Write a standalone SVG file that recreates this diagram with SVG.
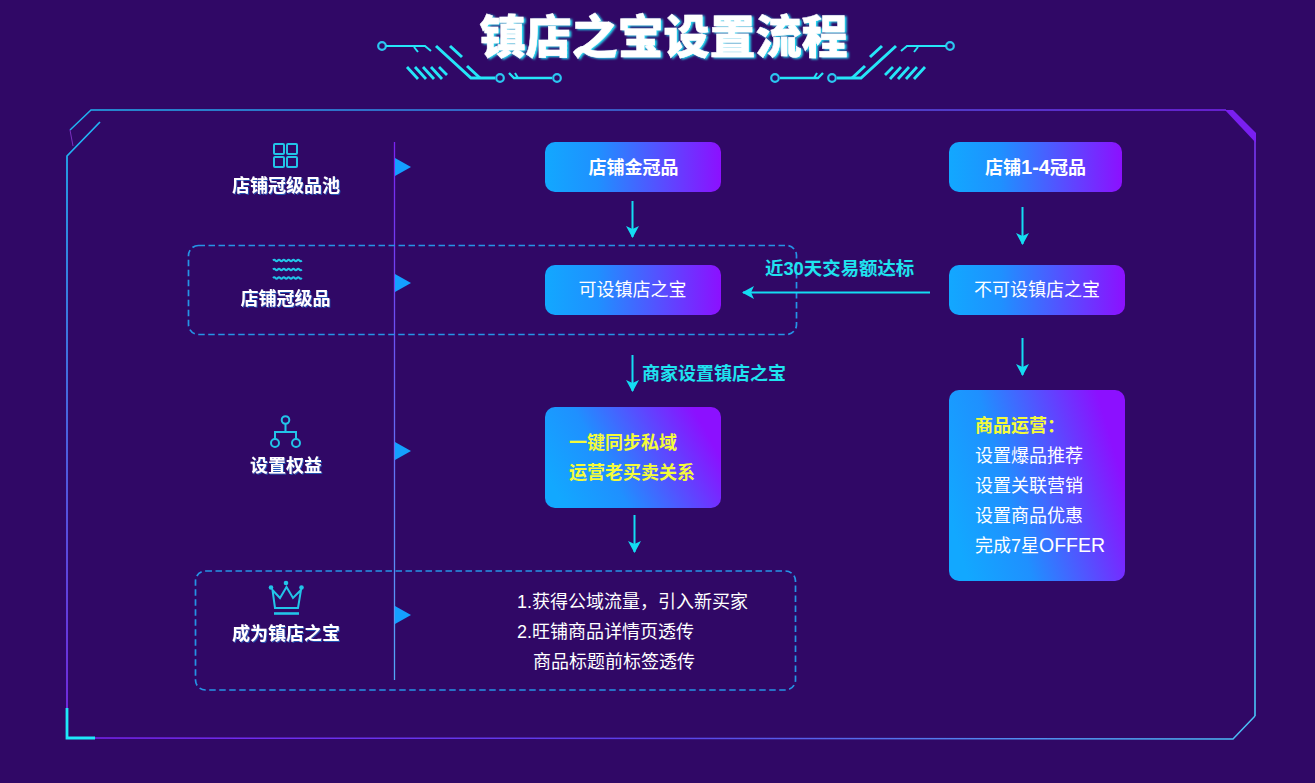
<svg xmlns="http://www.w3.org/2000/svg" width="1315" height="783" viewBox="0 0 1315 783">
<style>
text{font-family:"Liberation Sans","Noto Sans CJK SC",sans-serif}
.t{font-size:18px;fill:#fff;text-anchor:middle;font-weight:700}
.r{font-size:18px;fill:#fff}
.y{font-size:18px;fill:#f4fb3a;font-weight:700}
.c{font-size:18px;fill:#1fe3ef;font-weight:700}
.l{fill:none;stroke:#14dcf2;stroke-width:2}
.d{fill:none;stroke:#2594e6;stroke-width:1.700;stroke-dasharray:6.500 3.500}
.i{fill:none;stroke:#22c4e8;stroke-width:2}
.k{fill:none;stroke:#25e6f8;stroke-width:2}
.w{fill:none;stroke:#25e6f8;stroke-width:3}
.o{fill:none;stroke:#2bc6f0;stroke-width:2.200}
.g{fill:#14a0ff}
</style>
<defs>
<linearGradient id="b" x1="0" y1="0" x2="1" y2="0"><stop offset="0" stop-color="#12a8ff"/><stop offset="0.3" stop-color="#1f90ff"/><stop offset="1" stop-color="#8c10ff"/></linearGradient>
<linearGradient id="b2" x1="0" y1="0.65" x2="0.95" y2="0.35"><stop offset="0" stop-color="#12a8ff"/><stop offset="0.35" stop-color="#1f90ff"/><stop offset="1" stop-color="#8c10ff"/></linearGradient>
<linearGradient id="f" gradientUnits="userSpaceOnUse" x1="67" y1="110" x2="1255" y2="110"><stop offset="0" stop-color="#1fb4f0"/><stop offset="0.5" stop-color="#3f70e0"/><stop offset="1" stop-color="#7a22f0"/></linearGradient>
<linearGradient id="f2" gradientUnits="userSpaceOnUse" x1="67" y1="739" x2="1255" y2="739"><stop offset="0" stop-color="#7a22f0"/><stop offset="0.5" stop-color="#5a40e8"/><stop offset="1" stop-color="#4ac0f5"/></linearGradient>
<linearGradient id="v" gradientUnits="userSpaceOnUse" x1="0" y1="142" x2="0" y2="680"><stop offset="0" stop-color="#7a22f0"/><stop offset="1" stop-color="#52a8f8"/></linearGradient>
<linearGradient id="lf" gradientUnits="userSpaceOnUse" x1="0" y1="155" x2="0" y2="708"><stop offset="0" stop-color="#22b4f5"/><stop offset="1" stop-color="#7a30f0"/></linearGradient>
<linearGradient id="rt" gradientUnits="userSpaceOnUse" x1="0" y1="130" x2="0" y2="716"><stop offset="0" stop-color="#7a30f0"/><stop offset="1" stop-color="#48c8f8"/></linearGradient>
<filter id="s" x="-10%" y="-10%" width="120%" height="120%"><feDropShadow dx="2" dy="1" stdDeviation="0.800" flood-color="#25e6f8"/></filter>
<filter id="ts" x="-5%" y="-10%" width="110%" height="120%"><feDropShadow dx="1" dy="1" stdDeviation="0.500" flood-color="#14a0ff" flood-opacity="0.500"/></filter>
<marker id="a" markerWidth="15" markerHeight="14" refX="11" refY="6.500" orient="auto" markerUnits="userSpaceOnUse"><path d="M0 0L12 6.500L0 13L3 6.500Z" fill="#14dcf2"/></marker>
<g id="deco">
<circle cx="382" cy="46" r="3.800" class="o"/>
<path d="M386 46H425L431 51" class="k"/>
<path d="M414 47L418 52" class="k"/>
<path d="M436 46L471 78H495" class="w"/>
<path d="M450 46L462 57M467 66L480 78" class="w"/>
<path d="M407 67L418 79M415 67L426 79M423 67L434 79M431 67L442 79M439 67L447 75" class="w" style="stroke-width:2.800"/>
<circle cx="500" cy="78" r="3.800" class="o"/>
<path d="M509 73L514 78H552" class="w" style="stroke-width:2.400"/>
<path d="M518 78L515 73" class="k"/>
<circle cx="557" cy="78" r="3.800" class="o"/>
</g>
</defs>
<rect width="1315" height="783" fill="#300866"/>

<g id="title">
<text x="663.500" y="53" text-anchor="middle" font-size="46" font-weight="900" fill="#fff" stroke="#fff" stroke-width="0.500" filter="url(#s)">镇店之宝设置流程</text>
<use href="#deco"/>
<use href="#deco" transform="translate(1332 0) scale(-1 1)"/>
</g>

<g id="frame">
<path d="M70 130L91 110H1226" fill="none" stroke="url(#f)" stroke-width="1.500"/>
<path d="M70 130L73 146" fill="none" stroke="#7a30c0" stroke-width="1"/>
<path d="M100 122L67 156V708" fill="none" stroke="url(#lf)" stroke-width="1.700"/>
<path d="M95 738L1233 739L1255 716" fill="none" stroke="url(#f2)" stroke-width="1.500"/>
<path d="M1255 716V138" fill="none" stroke="url(#rt)" stroke-width="1.600"/>
<path d="M1225 110H1233L1256 133V143Z" fill="#7a1ff0"/>
<path d="M67 708V738H95" fill="none" stroke="#1ee8fa" stroke-width="2.800"/>
</g>

<g id="timeline">
<path d="M394.500 142V680" fill="none" stroke="url(#v)" stroke-width="1.300"/>
<path d="M395 158L411 167L395 176Z" class="g"/>
<path d="M395 274L411 283L395 292Z" class="g"/>
<path d="M395 442L411 451L395 460Z" class="g"/>
<path d="M395 606L411 615L395 624Z" class="g"/>
</g>

<g id="group-pin">
<rect x="188.500" y="245.500" width="608" height="89" rx="10" class="d"/>
</g>
<g id="group-crown">
<rect x="195.500" y="571" width="600" height="119" rx="10" class="d"/>
</g>

<g id="step-pool">
<g class="i"><rect x="274" y="144" width="10" height="10" rx="1"/><rect x="287" y="144" width="10" height="10" rx="1"/><rect x="274" y="157" width="10" height="10" rx="1"/><rect x="287" y="157" width="10" height="10" rx="1"/></g>
<text class="t" x="286" y="192" filter="url(#ts)">店铺冠级品池</text>
</g>
<g id="step-pin">
<path d="M273 260.500q1.200 -1.400 2.400 0t2.400 0t2.400 0t2.400 0t2.400 0t2.400 0t2.400 0t2.400 0t2.400 0t2.400 0t2.400 0t2.400 0M273 269.500q1.200 -1.400 2.400 0t2.400 0t2.400 0t2.400 0t2.400 0t2.400 0t2.400 0t2.400 0t2.400 0t2.400 0t2.400 0t2.400 0M273 278q1.200 -1.400 2.400 0t2.400 0t2.400 0t2.400 0t2.400 0t2.400 0t2.400 0t2.400 0t2.400 0t2.400 0t2.400 0t2.400 0" class="i"/>
<text class="t" x="285.500" y="305" filter="url(#ts)">店铺冠级品</text>
</g>
<g id="step-rights">
<g class="i"><circle cx="285.500" cy="420" r="3.800"/><circle cx="275" cy="443" r="4"/><circle cx="296" cy="443" r="4"/><path d="M285.500 424V432M275 439V432H296V439"/></g>
<text class="t" x="286" y="472" filter="url(#ts)">设置权益</text>
</g>
<g id="step-become">
<g class="i"><path d="M272.500 590L275 608H298L301 590L293 598L286.500 587L280 598Z"/><path d="M274 613.500H299" style="stroke-width:2.600"/></g>
<circle cx="271" cy="587.500" r="2.300" fill="#22c4e8"/><circle cx="286" cy="583" r="2.300" fill="#22c4e8"/><circle cx="301.500" cy="587.500" r="2.300" fill="#22c4e8"/>
<text class="t" x="286" y="640" filter="url(#ts)">成为镇店之宝</text>
</g>

<g id="node-gold"><rect x="545" y="142" width="176" height="50" rx="10" fill="url(#b)"/><text class="t" x="633.500" y="174">店铺金冠品</text></g>
<g id="node-14"><rect x="949" y="142" width="173" height="50" rx="10" fill="url(#b)"/><text class="t" x="1035.500" y="174">店铺<tspan font-size="20">1-4</tspan>冠品</text></g>
<g id="node-can"><rect x="545" y="265" width="176" height="50" rx="10" fill="url(#b)"/><text class="r" x="632.500" y="296" text-anchor="middle">可设镇店之宝</text></g>
<g id="node-cannot"><rect x="949" y="265" width="176" height="50" rx="10" fill="url(#b)"/><text class="r" x="1037" y="296" text-anchor="middle">不可设镇店之宝</text></g>
<g id="node-sync"><rect x="545" y="407" width="176" height="101" rx="10" fill="url(#b2)"/><text class="y" x="569" y="449">一键同步私域</text><text class="y" x="569" y="479">运营老买卖关系</text></g>
<g id="node-ops"><rect x="949" y="390" width="176" height="191" rx="10" fill="url(#b2)"/>
<text class="y" x="975" y="432">商品运营：</text>
<text class="r" x="975" y="462">设置爆品推荐</text><text class="r" x="975" y="492">设置关联营销</text><text class="r" x="975" y="522">设置商品优惠</text><text class="r" x="975" y="552">完成7星<tspan font-size="19.500">OFFER</tspan></text></g>
<g id="node-result">
<text class="r" x="517" y="608">1.获得公域流量，引入新买家</text>
<text class="r" x="517" y="638">2.旺铺商品详情页透传</text>
<text class="r" x="533" y="668">商品标题前标签透传</text>
</g>

<g id="connectors">
<path d="M632.500 201V237" class="l" marker-end="url(#a)"/>
<path d="M1022.500 207V244" class="l" marker-end="url(#a)"/>
<path d="M930 292.500H743" class="l" marker-end="url(#a)"/>
<path d="M1022.500 338V375" class="l" marker-end="url(#a)"/>
<path d="M632.500 355V391" class="l" marker-end="url(#a)"/>
<path d="M634.500 515V552" class="l" marker-end="url(#a)"/>
<text class="c" x="765" y="275" style="font-size:18.400px">近30天交易额达标</text>
<text class="c" x="642" y="380">商家设置镇店之宝</text>
</g>
</svg>
